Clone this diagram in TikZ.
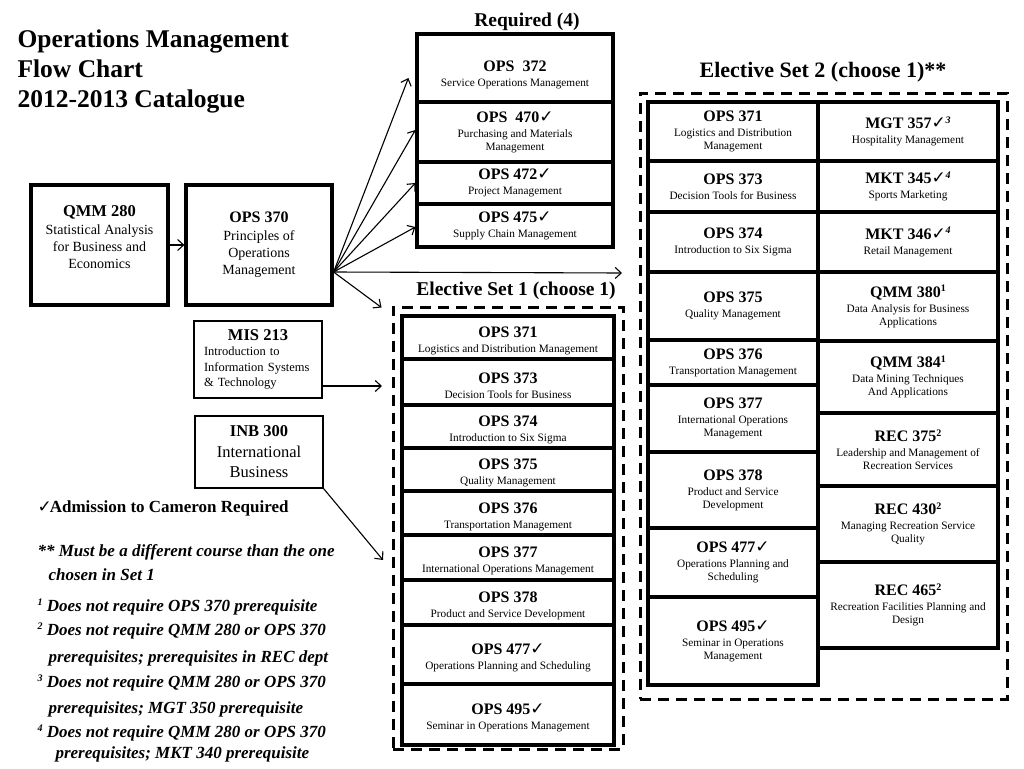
\documentclass[tikz,border=0pt]{standalone}
\usepackage{fontspec}
\setmainfont{Liberation Serif}
\newfontfamily\symfont{DejaVu Sans}
\usetikzlibrary{arrows.meta}
\newcommand{\ck}{{\symfont\bfseries\fontsize{17}{17}\selectfont ✓}}
\newcommand{\nsup}[1]{\raisebox{5.5pt}{\fontsize{10}{10}\selectfont #1}}
\newcommand{\crs}[2]{{\fontsize{16}{18}\selectfont\bfseries #1}\\[2pt]#2}
\begin{document}
\begin{tikzpicture}[x=1pt,y=-1pt,line width=1.1pt,>={Straight Barb[length=6pt,width=11pt]},
  crs/.style={draw,line width=3.2pt,align=center,inner sep=1pt,font=\fontsize{11.3}{13}\selectfont},
  minor/.style={draw,line width=1.5pt,inner sep=1pt},
  hdr/.style={inner sep=0pt,font=\fontsize{19.5}{22}\selectfont\bfseries},
  dashbox/.style={draw,line width=3pt,dash pattern=on 11pt off 7pt,inner sep=0pt},
  note/.style={anchor=base west,inner sep=0pt,font=\fontsize{17}{20}\selectfont\bfseries\itshape}]
  \useasboundingbox (0,0) rectangle (1024,768);
  % titulo
  \node[anchor=north west,inner sep=0pt,align=left,font=\fontsize{25.5}{30}\selectfont\bfseries] (title) at (17,29)
     {Operations Management\\Flow Chart\\2012-2013 Catalogue};
  % prerrequisitos
  \node[crs,minimum width=137pt,minimum height=120pt,font=\fontsize{14}{17}\selectfont,text depth=15pt] (qmm) at (99.5,245)
     {{\fontsize{16.5}{18}\selectfont\bfseries QMM 280}\\[1pt]Statistical Analysis\\for Business and\\Economics};
  \node[crs,minimum width=146pt,minimum height=120pt,font=\fontsize{14}{17}\selectfont] (o370) at (259,245)
     {{\fontsize{16}{18}\selectfont\bfseries OPS 370}\\[1pt]Principles of\\Operations\\Management};
  \node[minor,minimum width=128pt,minimum height=77pt,text width=108pt,align=left,font=\fontsize{12.5}{15.5}\selectfont] (mis) at (258,359.5)
     {{\centering\fontsize{16.5}{18}\selectfont\bfseries MIS 213\par}Introduction to\\Information Systems\\\& Technology};
  \node[minor,minimum width=128pt,minimum height=72pt,align=center,font=\fontsize{16.5}{20}\selectfont] (inb) at (259,452)
     {{\bfseries INB 300}\\[1pt]International\\Business};
  % requeridos
  \node[hdr] (reqhd) at (527,22) {Required (4)};
  \node[crs,minimum width=196pt,minimum height=68pt,text height=40pt] (r372) at (515,68) {\crs{OPS~~372}{Service Operations Management}};
  \node[crs,minimum width=196pt,minimum height=60pt] (r470) at (515,132) {\crs{OPS~~470\ck}{Purchasing and Materials\\Management}};
  \node[crs,minimum width=196pt,minimum height=42pt] (r472) at (515,183) {\crs{OPS 472\ck}{Project Management}};
  \node[crs,minimum width=196pt,minimum height=43pt] (r475) at (515,225.5) {\crs{OPS 475\ck}{Supply Chain Management}};
  % electivas 1
  \node[hdr] (s1hd) at (516,291) {Elective Set 1 (choose 1)};
  \node[dashbox,minimum width=230pt,minimum height=442pt] (set1) at (508,528) {};
  \foreach \n/\y/\h/\t/\s in {a/337.5/43/{OPS 371}/{Logistics and Distribution Management},
      b/382/46/{OPS 373}/{Decision Tools for Business},
      c/426.5/43/{OPS 374}/{Introduction to Six Sigma},
      d/469.5/43/{OPS 375}/{Quality Management},
      e/513/44/{OPS 376}/{Transportation Management},
      f/557.5/45/{OPS 377}/{International Operations Management},
      g/602.5/45/{OPS 378}/{Product and Service Development},
      h/654.5/59/{OPS 477\ck}/{Operations Planning and Scheduling},
      i/714.5/61/{OPS 495\ck}/{Seminar in Operations Management}}
    \node[crs,minimum width=212pt,minimum height=\h pt,text height=33pt] (s1\n) at (508,\y) {\crs{\t}{\s}};
  % electivas 2
  \node[hdr,font=\fontsize{22}{24}\selectfont\bfseries] (s2hd) at (823,72) {Elective Set 2 (choose 1)**};
  \node[dashbox,minimum width=367pt,minimum height=606pt] (set2) at (823.5,396) {};
  \foreach \n/\y/\h/\t/\s in {a/131.5/59/{OPS 371}/{Logistics and Distribution\\Management},
      b/186.5/51/{OPS 373}/{Decision Tools for Business},
      c/242/60/{OPS 374}/{Introduction to Six Sigma},
      d/306/68/{OPS 375}/{Quality Management},
      e/362.5/45/{OPS 376}/{Transportation Management},
      f/418.5/67/{OPS 377}/{International Operations\\Management},
      g/490/76/{OPS 378}/{Product and Service\\Development},
      h/562.5/69/{OPS 477\ck}/{Operations Planning and\\Scheduling},
      i/641/88/{OPS 495\ck}/{Seminar in Operations\\Management}}
    \node[crs,minimum width=170pt,minimum height=\h pt] (s2\n) at (733,\y) {\crs{\t}{\s}};
  \foreach \n/\y/\h/\t/\s in {a/131.5/59/{MGT 357\ck\nsup{\itshape 3}}/{Hospitality Management},
      b/186.5/51/{MKT 345\ck\nsup{\itshape 4}}/{Sports Marketing},
      c/242/60/{MKT 346\ck\nsup{\itshape 4}}/{Retail Management},
      d/306.5/69/{QMM 380\nsup{1}}/{Data Analysis for Business\\Applications},
      e/377/72/{QMM 384\nsup{1}}/{Data Mining Techniques\\And Applications},
      f/449.5/73/{REC 375\nsup{2}}/{Leadership and Management of\\Recreation Services},
      g/524/76/{REC 430\nsup{2}}/{Managing Recreation Service\\Quality},
      h/605/86/{REC 465\nsup{2}}/{Recreation Facilities Planning and\\Design}}
    \node[crs,minimum width=180pt,minimum height=\h pt] (s2r\n) at (908,\y) {\crs{\t}{\s}};
  % flechas
  \coordinate (fan) at ([yshift=-27pt]o370.east);
  \coordinate (s2in) at (622,273);
  \coordinate (misend) at (382,386);
  \coordinate (inbend) at (383,560);
  \draw[->] (qmm) -- (o370);
  \draw[->] (fan) -- ([xshift=-7pt,yshift=-10pt]r372.west);
  \draw[->] (fan) -- ([yshift=2pt]r470.west);
  \draw[->] (fan) -- (r472.west);
  \draw[->] (fan) -- ([yshift=-1.5pt]r475.west);
  \draw[->] (fan) -- (s2in);
  \draw[->] (fan) -- ([xshift=-10pt,yshift=-2pt]set1.north west);
  \draw[->] ([yshift=-26.5pt]mis.east) -- (misend);
  \draw[->] (inb.south east) -- (inbend);
  % notas
  \node[anchor=base west,inner sep=0pt,font=\fontsize{17}{20}\selectfont\bfseries] (adm) at (37,512) {\ck\kern-2pt Admission to Cameron Required};
  \node[note] (n0) at (37,556) {** Must be a different course than the one};
  \node[note] (n0b) at (48,580) {chosen in Set 1};
  \node[note] (n1) at (37,611) {\nsup{1} Does not require OPS 370 prerequisite};
  \node[note] (n2) at (37,635) {\nsup{2} Does not require QMM 280 or OPS 370};
  \node[note] (n2b) at (48,662) {prerequisites; prerequisites in REC dept};
  \node[note] (n3) at (37,687) {\nsup{3} Does not require QMM 280 or OPS 370};
  \node[note] (n3b) at (48,713) {prerequisites; MGT 350 prerequisite};
  \node[note] (n4) at (37,737) {\nsup{4} Does not require QMM 280 or OPS 370};
  \node[note] (n4b) at (55,758) {prerequisites; MKT 340 prerequisite};
\end{tikzpicture}
\end{document}
